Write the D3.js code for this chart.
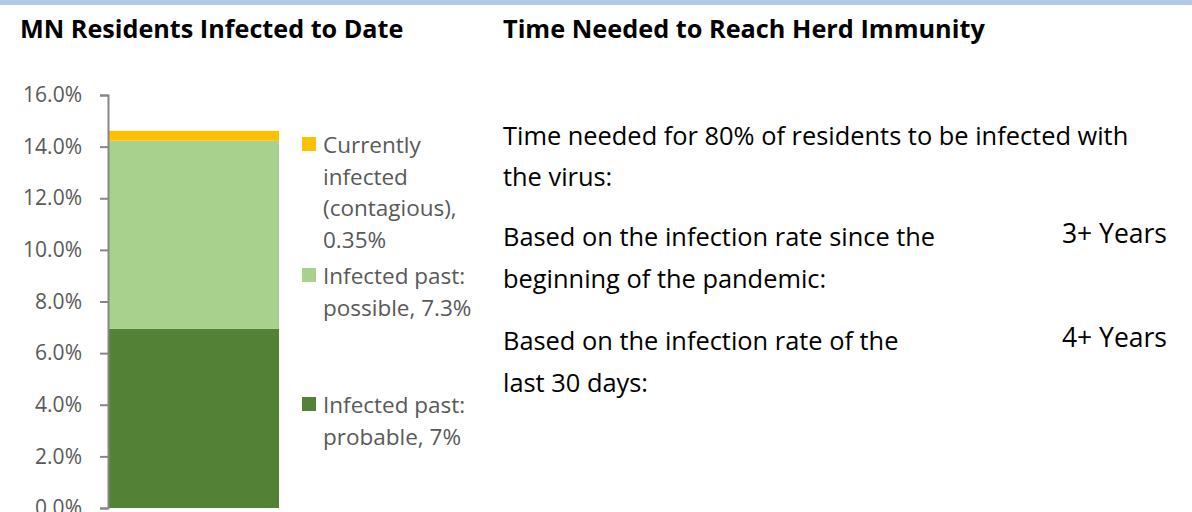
<!DOCTYPE html>
<html>
<head>
<meta charset="utf-8">
<script src="https://cdn.jsdelivr.net/npm/d3@7"></script>
<style>
  html, body { margin: 0; padding: 0; background: #fff; }
  svg { display: block; font-family: "Open Sans", sans-serif; }
</style>
</head>
<body>
<div id="chart"></div>
<script>
// series (percent of MN residents), bottom to top
const seriesKeys = ["probable", "possible", "current"];
const seriesValues = [6.95, 7.28, 0.38];
const seriesLabels = [
  ["Infected past:", "probable, 7%"],
  ["Infected past:", "possible, 7.3%"],
  ["Currently", "infected", "(contagious),", "0.35%"]
];
const yTicks = [0, 2, 4, 6, 8, 10, 12, 14, 16];

const timeIntro = ["Time needed for 80% of residents to be infected with", "the virus:"];
const timeRows = [
  ["Based on the infection rate since the", "beginning of the pandemic:"],
  ["Based on the infection rate of the", "last 30 days:"]
];
const timeValues = ["3+ Years", "4+ Years"];

const colorMap = new Map([
  ["probable", "#538135"],
  ["possible", "#a9d18e"],
  ["current", "#ffc000"]
]);

const width = 1192, height = 512;

const svg = d3.select("#chart").append("svg")
  .attr("width", width)
  .attr("height", height);

// top border strip
svg.append("rect")
  .attr("x", 0).attr("y", 0)
  .attr("width", width).attr("height", 5)
  .attr("fill", "#b4c7e7");

// titles
svg.append("text")
  .attr("x", 20).attr("y", 38)
  .attr("font-size", 25.2).attr("font-weight", "bold").attr("fill", "#000")
  .text("MN Residents Infected to Date");

svg.append("text")
  .attr("x", 503).attr("y", 38)
  .attr("font-size", 25.3).attr("font-weight", "bold").attr("fill", "#000")
  .text("Time Needed to Reach Herd Immunity");

// stacked bar
const sy = d3.scaleLinear()
  .domain([0, 16])
  .range([508, 95]);

const row = {};
seriesKeys.forEach((k, i) => row[k] = seriesValues[i]);

const stackGenerator = d3.stack().keys(seriesKeys);
const stacked = stackGenerator([row]);

const sx = d3.scaleBand()
  .domain(["MN"])
  .range([109, 279]);

svg.append("g").selectAll("rect")
  .data(stacked)
  .join("rect")
  .attr("x", sx("MN"))
  .attr("width", sx.bandwidth())
  .attr("y", d => sy(d[0][1]))
  .attr("height", d => sy(d[0][0]) - sy(d[0][1]))
  .attr("fill", d => colorMap.get(d.key));

const yAxis = d3.axisLeft(sy)
  .tickValues(yTicks)
  .tickFormat(d => d.toFixed(1) + "%")
  .tickSize(8)
  .tickPadding(18)
  .tickSizeOuter(8);

const gy = svg.append("g")
  .attr("transform", "translate(108,0)")
  .call(yAxis);
gy.select(".domain").attr("stroke", "#868686").attr("stroke-width", 2);
gy.selectAll(".tick line").attr("stroke", "#868686").attr("stroke-width", 2);
gy.selectAll(".tick text")
  .attr("font-family", "Open Sans, sans-serif")
  .attr("font-size", 21)
  .attr("fill", "#595959");

// legend (top to bottom: current, possible, probable)
const legendTops = [137, 268, 397];
const legendOrder = [2, 1, 0];
const legend = svg.append("g").selectAll("g")
  .data(legendOrder)
  .join("g")
  .attr("transform", (d, i) => `translate(302,${legendTops[i]})`);

legend.append("rect")
  .attr("width", 14).attr("height", 14)
  .attr("fill", d => colorMap.get(seriesKeys[d]));

legend.append("text")
  .attr("font-size", 22.5)
  .attr("fill", "#595959")
  .selectAll("tspan")
  .data(d => seriesLabels[d])
  .join("tspan")
  .attr("x", 21)
  .attr("y", (d, i) => 16 + i * 31.5)
  .text(d => d);

// right-hand text block
const txt = svg.append("g").attr("font-size", 25.4).attr("fill", "#000");

txt.append("text")
  .selectAll("tspan")
  .data(timeIntro)
  .join("tspan")
  .attr("x", 503)
  .attr("y", (d, i) => 145 + i * 41)
  .text(d => d);

const rowTops = [246, 350];
timeRows.forEach((lines, r) => {
  txt.append("text")
    .selectAll("tspan")
    .data(lines)
    .join("tspan")
    .attr("x", 503)
    .attr("y", (d, i) => rowTops[r] + i * 42)
    .text(d => d);
  txt.append("text")
    .attr("x", 1167)
    .attr("y", rowTops[r] - 3)
    .attr("font-size", 26.5)
    .attr("text-anchor", "end")
    .text(timeValues[r]);
});
</script>
</body>
</html>
